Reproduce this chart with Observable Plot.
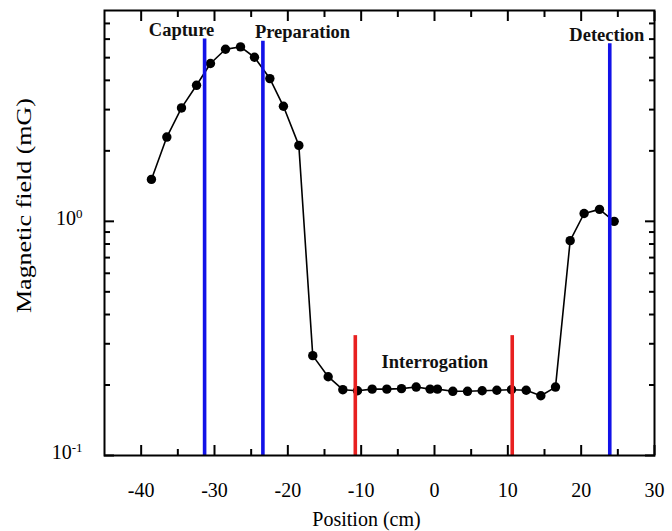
<!DOCTYPE html>
<html>
<head>
<meta charset="utf-8">
<script src="https://cdn.jsdelivr.net/npm/d3@7"></script>
<script src="https://cdn.jsdelivr.net/npm/@observablehq/plot@0.6"></script>
<style>
  html, body { margin: 0; padding: 0; background: #fff; }
  #chart svg { display: block; }
</style>
</head>
<body>
<div id="chart"></div>
<script>
// Measured magnetic field along the beam line
const positions = [-38.6, -36.5, -34.5, -32.45, -30.55, -28.5, -26.45, -24.55, -22.45, -20.6, -18.5,
                   -16.6, -14.5, -12.5, -10.5, -8.5, -6.5, -4.5, -2.5, -0.6, 0.4, 2.5, 4.5, 6.5,
                   8.5, 10.5, 12.5, 14.5, 16.5, 18.5, 20.4, 22.5, 24.5];
const fields = [1.51, 2.29, 3.05, 3.81, 4.72, 5.43, 5.56, 5.02, 4.07, 3.10, 2.11,
                0.267, 0.217, 0.191, 0.189, 0.192, 0.192, 0.193, 0.196, 0.192, 0.192, 0.188, 0.188, 0.189,
                0.190, 0.191, 0.190, 0.180, 0.196, 0.827, 1.08, 1.125, 1.0];

// Laser beam / region markers
const beamX = [-31.35, -23.4, 23.9, -10.8, 10.6];
const beamTop = [6.0, 5.88, 5.73, 0.325, 0.325];
const beamColor = ["#1212e8", "#1212e8", "#1212e8", "#e82020", "#e82020"];

// Region names
const stageNames = ["Capture", "Preparation", "Detection", "Interrogation"];
const stageX = [-34.5, -18.0, 23.5, 0.05];
const stageY = [6.16, 6.05, 5.88, 0.236];

// Axis ticks
const xMajor = [-40, -30, -20, -10, 0, 10, 20, 30];
const xMinor = [-35, -25, -15, -5, 5, 15, 25];
const yMajor = [0.1, 1];
const yMinor = [0.2, 0.3, 0.4, 0.5, 0.6, 0.7, 0.8, 0.9, 2, 3, 4, 5, 6, 7];

const xLabel = "Position (cm)";
const yLabel = "Magnetic field (mG)";

const points = positions.map((x, i) => ({x, y: fields[i]}));
const beams = beamX.map((x, i) => ({x, top: beamTop[i], color: beamColor[i]}));
const stages = stageNames.map((name, i) => ({name, x: stageX[i], y: stageY[i]}));

const font = "Liberation Serif, Times New Roman, serif";

// inward tick stubs (negative tick size points into the frame)
const inX = (values, len, anchor) =>
  Plot.axisX({anchor, ticks: values, tickSize: -len, text: null, label: null, stroke: "#000", strokeWidth: 2});
const inY = (values, len, anchor) =>
  Plot.axisY({anchor, ticks: values, tickSize: -len, text: null, label: null, stroke: "#000", strokeWidth: 2});

const chart = Plot.plot({
  width: 672,
  height: 531,
  marginLeft: 104,
  marginRight: 18,
  marginTop: 10,
  marginBottom: 76,
  style: {fontFamily: font, fontSize: "20px"},
  x: {domain: [-45, 30]},
  y: {type: "log", domain: [0.1, 7.95]},
  marks: [
    // tick labels
    Plot.axisX({anchor: "bottom", ticks: xMajor, tickSize: 0, tickPadding: 27,
                tickFormat: d => String(d), label: null, fontSize: 20}),
    Plot.axisY({anchor: "left", ticks: yMajor, tickSize: 0, tickPadding: 22, dy: -3,
                tickFormat: d => "10^" + Math.round(Math.log10(d)), label: null, fontSize: 20}),
    // measured profile
    Plot.line(points, {x: "x", y: "y", stroke: "black", strokeWidth: 1.6}),
    Plot.dot(points, {x: "x", y: "y", r: 4.7, fill: "black"}),
    // beam positions
    Plot.ruleX(beams, {x: "x", y1: 0.1, y2: "top", stroke: "color", strokeWidth: 3.6}),
    // region names
    Plot.text(stages, {x: "x", y: "y", text: "name", fontWeight: "bold", fontSize: 18.5,
                       lineAnchor: "bottom", fill: "#111"}),
    // axis titles
    Plot.text([xLabel], {frameAnchor: "bottom", dx: -13, dy: 70, lineAnchor: "bottom", fontSize: 20}),
    Plot.text([yLabel], {frameAnchor: "left", dx: -80, dy: 80, rotate: -90, lineAnchor: "middle",
                         textAnchor: "start", fontSize: 20, className: "ylabel"}),
    Plot.frame({stroke: "black", strokeWidth: 2}),
    // inward ticks on all four sides
    inX(xMajor, 10, "bottom"), inX(xMinor, 6, "bottom"),
    inX(xMajor, 10, "top"), inX(xMinor, 6, "top"),
    inY(yMajor, 10, "left"), inY(yMinor, 6, "left"),
    inY(yMajor, 10, "right"), inY(yMinor, 6, "right")
  ]
});

// Render y tick labels as powers of ten with a raised exponent
d3.select(chart).selectAll('g[aria-label="y-axis tick label"] text').each(function () {
  const t = d3.select(this);
  const [base, exp] = t.text().split("^");
  t.text(base);
  t.append("tspan").attr("dy", "-0.5em").attr("font-size", 13).text(exp);
});

// Stretch the vertical title along its baseline
d3.select(chart).selectAll(".ylabel text")
  .attr("textLength", 215).attr("lengthAdjust", "spacingAndGlyphs");

document.getElementById("chart").appendChild(chart);
</script>
</body>
</html>
